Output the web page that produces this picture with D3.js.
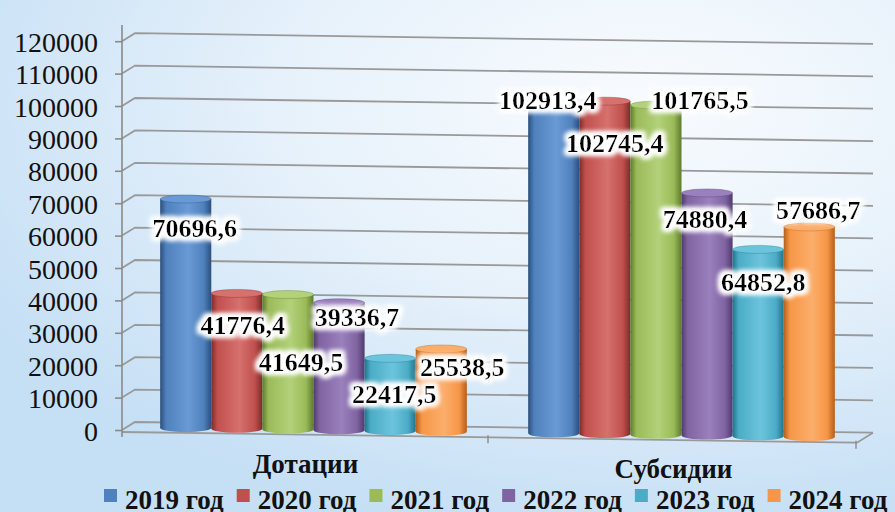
<!DOCTYPE html>
<html><head><meta charset="utf-8">
<script src="https://cdn.jsdelivr.net/npm/d3@7/dist/d3.min.js"></script>
<style>html,body{margin:0;padding:0;overflow:hidden;background:#e6f1fb}</style>
</head><body>
<svg id="c" width="895" height="512"></svg>
<script>
const categories = ["Дотации", "Субсидии"];
const years = ["2019 год", "2020 год", "2021 год", "2022 год", "2023 год", "2024 год"];
const dotacii  = [70696.6, 41776.4, 41649.5, 39336.7, 22417.5, 25538.5];
const subsidii = [102913.4, 102745.4, 101765.5, 74880.4, 57686.7, 64852.8];
const labelsDotacii  = ["70696,6", "41776,4", "41649,5", "39336,7", "22417,5", "25538,5"];
const labelsSubsidii = ["102913,4", "102745,4", "101765,5", "74880,4", "57686,7", "64852,8"];
const yTicks = [0,10000,20000,30000,40000,50000,60000,70000,80000,90000,100000,110000,120000];
const series = [dotacii, subsidii];
const labels = [labelsDotacii, labelsSubsidii];

// layout: label offsets relative to bar centre / bar top
const labelOffsets = [
  [[9, 38], [6, 41], [13, 76], [18, 23], [4, 45], [21, 27]],
  [[-6, 9], [10, 51], [44, 4], [-2, 35], [60, -30], [-46, 64]]
];
const colors = ["#4f81bd","#c0504d","#9bbb59","#8064a2","#4bacc6","#f79646"];
const dark   = ["#2c4f7c","#7d2b29","#5f7a2e","#4f3a6e","#23738a","#b35f1c"];
const light  = ["#6a9ad6","#d6716e","#b2d17a","#9a80bd","#6cc4dc","#fbae6c"];

const svg = d3.select("#c");
const W = 895, H = 512;
const defs = svg.append("defs");

// background
const bg = defs.append("radialGradient").attr("id","bg")
  .attr("cx", 0.72).attr("cy", 0.2).attr("r", 0.85);
bg.append("stop").attr("offset","0%").attr("stop-color","#f8fbfe");
bg.append("stop").attr("offset","45%").attr("stop-color","#e8f2fb");
bg.append("stop").attr("offset","100%").attr("stop-color","#c5dff5");
svg.append("rect").attr("width",W).attr("height",H).attr("fill","url(#bg)");

// glow filter for labels
const f = defs.append("filter").attr("id","glow").attr("x","-20%").attr("y","-40%").attr("width","140%").attr("height","180%");
f.append("feMorphology").attr("in","SourceAlpha").attr("operator","dilate").attr("radius",3).attr("result","d");
f.append("feGaussianBlur").attr("in","d").attr("stdDeviation",2.5).attr("result","b");
f.append("feFlood").attr("flood-color","#ffffff").attr("result","w");
f.append("feComposite").attr("in","w").attr("in2","b").attr("operator","in").attr("result","g");
const fm = f.append("feMerge");
fm.append("feMergeNode").attr("in","g");
fm.append("feMergeNode").attr("in","g");
fm.append("feMergeNode").attr("in","SourceGraphic");

colors.forEach((c,i)=>{
  const g = defs.append("linearGradient").attr("id","cyl"+i).attr("x1",0).attr("x2",1).attr("y1",0).attr("y2",0);
  g.append("stop").attr("offset","0%").attr("stop-color",dark[i]);
  g.append("stop").attr("offset","12%").attr("stop-color",c);
  g.append("stop").attr("offset","55%").attr("stop-color",light[i]);
  g.append("stop").attr("offset","85%").attr("stop-color",c);
  g.append("stop").attr("offset","100%").attr("stop-color",dark[i]);
});

// scales
const y = d3.scaleLinear().domain([0,120000]).range([430, 41.2]);
const x0 = d3.scaleBand().domain(categories).range([129.5, 865.5]);
const x1 = d3.scaleBand().domain(years).range([0, x0.bandwidth()]).paddingInner(0).paddingOuter(0.6);
const axisX = 122, depthX = 13, depthY = 8, slope = 0.0145, rightX = 873;
const serif = "'Liberation Serif','Times New Roman',Times,serif";

// gridlines (back wall)
const grid = svg.append("g");
yTicks.forEach(t=>{
  const yy = y(t);
  grid.append("path")
    .attr("d", `M${axisX},${yy} L${axisX+depthX},${yy-depthY} L${rightX},${yy-depthY+slope*(rightX-axisX-depthX)}`)
    .attr("fill","none").attr("stroke","#999").attr("stroke-width",1.8);
});
// floor front edge
const floorY = x => y(0) + 2 + slope*(x-axisX);
const frontRight = 857;
grid.append("path")
  .attr("d", `M${axisX},${floorY(axisX)} L${frontRight},${floorY(frontRight)} L${rightX},${y(0)-depthY+slope*(rightX-axisX-depthX)}`)
  .attr("fill","none").attr("stroke","#999").attr("stroke-width",1.8);
// category ticks
categories.forEach(c=>{
  const tx = x0(c) + x0.bandwidth() - 9.5;
  grid.append("line").attr("x1",tx).attr("x2",tx).attr("y1",floorY(tx)-2).attr("y2",floorY(tx)+6)
    .attr("stroke","#8a8a8a").attr("stroke-width",1.4);
});

// y axis
const ax = svg.append("g").attr("transform",`translate(${axisX},0)`)
  .call(d3.axisLeft(y).tickValues(yTicks).tickSize(7).tickPadding(17).tickFormat(d3.format("d")));
ax.attr("font-family", serif);
ax.select(".domain").remove();
ax.selectAll(".tick line").attr("stroke","#8a8a8a").attr("stroke-width",1.6);
ax.selectAll(".tick text").attr("font-family",serif)
  .attr("font-size",28).attr("fill","#111").attr("dy","0.36em");
svg.append("line").attr("x1",axisX).attr("x2",axisX).attr("y1",25).attr("y2",floorY(axisX)+5)
  .attr("stroke","#8a8a8a").attr("stroke-width",1.6);

// bars
const baseY = x => y(0) - 2 + slope*(x-185);
const bars = svg.append("g");
const ry = 4;
categories.forEach((c,ci)=>{
  years.forEach((yr,i)=>{
    const v = series[ci][i];
    const bx = x0(c) + x1(yr), bw = x1.bandwidth();
    const cx = bx + bw/2;
    const b = baseY(cx);
    const top = b - (y(0) - y(v));
    const g = bars.append("g");
    g.append("path")
      .attr("d", `M${bx},${top} L${bx},${b} A${bw/2},${ry} 0 0 0 ${bx+bw},${b} L${bx+bw},${top} Z`)
      .attr("fill",`url(#cyl${i})`);
    g.append("ellipse").attr("cx",cx).attr("cy",top).attr("rx",bw/2).attr("ry",ry)
      .attr("fill",light[i]).attr("stroke",dark[i]).attr("stroke-width",0.6).attr("stroke-opacity",0.6);
  });
});

// labels
const lab = svg.append("g").attr("font-family",serif)
  .attr("font-weight","bold").attr("font-size",26).attr("text-anchor","middle").attr("fill","#000");
categories.forEach((c,ci)=>{
  years.forEach((yr,i)=>{
    const v = series[ci][i];
    const cx = x0(c) + x1(yr) + x1.bandwidth()/2;
    const top = baseY(cx) - (y(0) - y(v));
    const [dx,dy] = labelOffsets[ci][i];
    lab.append("text").attr("x",cx+dx).attr("y",top+dy).attr("filter","url(#glow)").text(labels[ci][i]);
  });
});

// category labels
const cat = svg.append("g").attr("font-family",serif)
  .attr("font-weight","bold").attr("font-size",27).attr("text-anchor","middle").attr("fill","#111");
categories.forEach(c=>{
  const cx = x0(c) + x0.bandwidth()/2 - 8;
  cat.append("text").attr("x",cx).attr("y",floorY(cx)+38).text(c);
});

// legend
const leg = svg.append("g").attr("font-family",serif)
  .attr("font-weight","bold").attr("font-size",27).attr("fill","#111");
let lx = 104;
years.forEach((yr,i)=>{
  leg.append("rect").attr("x",lx).attr("y",489).attr("width",13).attr("height",13).attr("fill",colors[i]);
  const t = leg.append("text").attr("x",lx+21).attr("y",509).text(yr);
  lx += 21 + t.node().getComputedTextLength() + 13;
});
</script>
</body></html>
